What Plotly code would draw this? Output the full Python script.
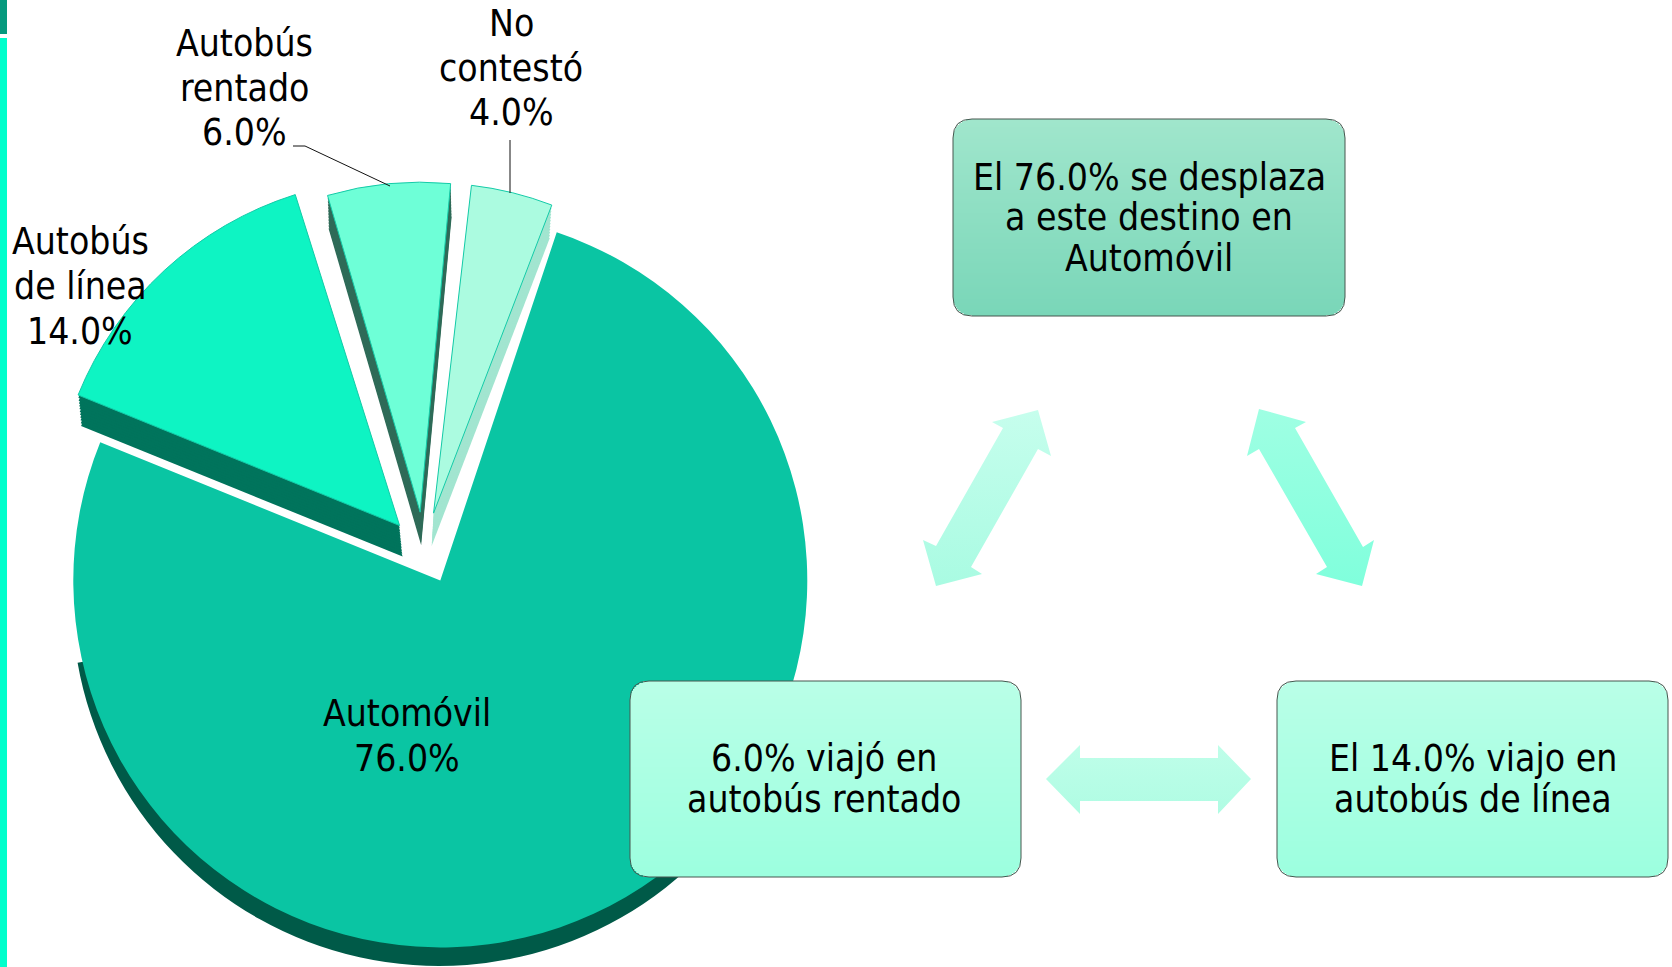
import plotly.graph_objects as go

W, H = 1672, 967

# --- data ---
categories = ["Automóvil", "Autobús de línea", "Autobús rentado", "No contestó"]
shares = [76.0, 14.0, 6.0, 4.0]
top_colors = ["#0AC5A3", "#0EF4C3", "#6EFFD7", "#ABFBE0"]
wall_colors = ["#005A48", "#00745C", "#2F6B58", "#A2E5D0"]
rotation_deg = 21

box_lines = [
    ["El 76.0% se desplaza", "a este destino en", "Automóvil"],
    ["6.0% viajó en", "autobús rentado"],
    ["El 14.0% viajo en", "autobús de línea"],
]
label_lines = [
    ["Automóvil", "76.0%"],
    ["Autobús", "de línea", "14.0%"],
    ["Autobús", "rentado", "6.0%"],
    ["No", "contestó", "4.0%"],
]

FONT = "DejaVu Sans Condensed, DejaVu Sans, sans-serif"
FS = 37

fig = go.Figure()
HIDE = "rgba(0,0,0,0)"


def dom(cx, cy, half):
    return dict(
        x=[(cx - half) / W, (cx + half) / W],
        y=[1 - (cy + half) / H, 1 - (cy - half) / H],
    )


def pie_slice(i, cx, cy, r, pull, color, line=None, turn=0):
    """One category of the shared pie, the other categories transparent."""
    half = r * (1 + pull)
    fig.add_trace(go.Pie(
        labels=categories, values=shares, sort=False, direction="clockwise",
        rotation=rotation_deg + turn, domain=dom(cx, cy, half),
        pull=[pull if k == i else 0 for k in range(4)],
        marker=dict(
            colors=[color if k == i else HIDE for k in range(4)],
            line=dict(color=[line if (k == i and line) else HIDE for k in range(4)],
                      width=[1 if (k == i and line) else 0 for k in range(4)]),
        ),
        textinfo="none", hoverinfo="skip", showlegend=False,
    ))


# shadow wall under the big slice: lower rim only
fig.add_trace(go.Pie(
    values=[135, 225], sort=False, direction="clockwise", rotation=125,
    domain=dom(439, 581 + 18, 367),
    marker=dict(colors=[wall_colors[0], HIDE], line=dict(width=0)),
    textinfo="none", hoverinfo="skip", showlegend=False,
))
pie_slice(0, 426.5, 550.4, 367, 33 / 367, top_colors[0], turn=-2.5)

# geometry of the three exploded slices: radius, pull, wall shift x, wall height, turn
small = {
    1: (347, 36 / 347, 3, 31, -2.5),
    2: (330, 40 / 330, 1, 33, -1.3),
    3: (330, 40 / 330, -2, 33, 0),
}
for i, (r, p, dx, dy, turn) in small.items():
    for step in range(11, 0, -1):
        pie_slice(i, 424 + dx * step / 11, 552 + dy * step / 11, r, p, wall_colors[i], turn=turn)
    pie_slice(i, 424, 552, r, p, top_colors[i], line="#14CBA8", turn=turn)


def poly(points, c0, c1):
    xs = [p[0] for p in points] + [points[0][0]]
    ys = [p[1] for p in points] + [points[0][1]]
    fig.add_trace(go.Scatter(
        x=xs, y=ys, mode="lines", fill="toself", line=dict(width=0),
        fillgradient=dict(type="vertical", colorscale=[[0, c0], [1, c1]]),
        hoverinfo="skip", showlegend=False,
    ))


poly([(1038, 410), (992, 422), (1003, 428), (936, 546), (923, 540), (936, 586),
      (982, 574), (971, 567), (1038, 449), (1051, 456)], "#A9FBE2", "#C6FEED")
poly([(1259, 409), (1306, 422), (1295, 428), (1363, 547), (1374, 540), (1362, 586),
      (1316, 574), (1327, 567), (1259, 449), (1247, 456)], "#80FFDC", "#9FFFE3")
poly([(1046, 779), (1080, 745), (1080, 758), (1218, 758), (1218, 745), (1251, 779),
      (1218, 814), (1218, 801), (1080, 801), (1080, 814)], "#AFFCE3", "#BFFEE9")

shapes = []


def rect(x0, y0, x1, y1, color):
    shapes.append(dict(type="rect", xref="x", yref="y", x0=x0, x1=x1, y0=y0, y1=y1,
                       fillcolor=color, line=dict(width=0), layer="above"))


def mix(a, b, t):
    ca = [int(a[i:i + 2], 16) for i in (1, 3, 5)]
    cb = [int(b[i:i + 2], 16) for i in (1, 3, 5)]
    return "#%02X%02X%02X" % tuple(round(u + (v - u) * t) for u, v in zip(ca, cb))


def rounded_box(x0, y0, x1, y1, c0, c1, rad=19):
    y = y0
    while y < y1:
        mid = y + 1
        inset = 0
        d = None
        if mid < y0 + rad:
            d = y0 + rad - mid
        elif mid > y1 - rad:
            d = mid - (y1 - rad)
        if d is not None:
            inset = rad - (max(rad * rad - d * d, 0)) ** 0.5
        rect(x0 + inset, y, x1 - inset, min(y + 2, y1), mix(c0, c1, (y - y0) / (y1 - y0)))
        y += 2
    k = rad
    path = (f"M {x0+k},{y0} L {x1-k},{y0} Q {x1},{y0} {x1},{y0+k} L {x1},{y1-k} "
            f"Q {x1},{y1} {x1-k},{y1} L {x0+k},{y1} Q {x0},{y1} {x0},{y1-k} "
            f"L {x0},{y0+k} Q {x0},{y0} {x0+k},{y0} Z")
    shapes.append(dict(type="path", xref="x", yref="y", path=path,
                       line=dict(color="#46574F", width=1), layer="above"))


rounded_box(953, 119, 1345, 316, "#A0E6CC", "#79D6B8")
rounded_box(630, 681, 1021, 877, "#B9FFE7", "#9CFFDF")
rounded_box(1277, 681, 1668, 877, "#B9FFE7", "#9CFFDF")

# left strip of the slide
rect(0, 38, 7, 967, "#00FFCC")
rect(0, 0, 7, 34, "#059A7E")

# leader lines
shapes.append(dict(type="path", xref="x", yref="y", path="M 293,146 L 305,146 L 390,186",
                   line=dict(color="#111111", width=1), layer="above"))
shapes.append(dict(type="line", xref="x", yref="y", x0=510, x1=510, y0=140, y1=193,
                   line=dict(color="#111111", width=1), layer="above"))

annotations = []


def text_block(lines, x, ys):
    for t, y in zip(lines, ys):
        annotations.append(dict(
            text=t, x=x, y=y, xref="x", yref="y", showarrow=False,
            xanchor="center", yanchor="middle",
            font=dict(family=FONT, size=FS, color="#000000"),
        ))


text_block(box_lines[0], 1149, [177, 217, 258])
text_block(box_lines[1], 824, [758, 799])
text_block(box_lines[2], 1473, [758, 799])
text_block(label_lines[0], 407, [713, 758])
text_block(label_lines[1], 80, [241, 286, 331])
text_block(label_lines[2], 244, [43, 88, 132])
text_block(label_lines[3], 511, [23, 68, 112])

fig.update_layout(
    width=W, height=H, autosize=False,
    margin=dict(l=0, r=0, t=0, b=0),
    paper_bgcolor="white", plot_bgcolor="white", showlegend=False,
    xaxis=dict(range=[0, W], visible=False, fixedrange=True),
    yaxis=dict(range=[H, 0], visible=False, fixedrange=True),
    shapes=shapes, annotations=annotations,
)
fig.write_html(
    "out.html", config=dict(displayModeBar=False),
    post_script="document.body.style.margin='0';document.documentElement.style.overflow='hidden';",
)
